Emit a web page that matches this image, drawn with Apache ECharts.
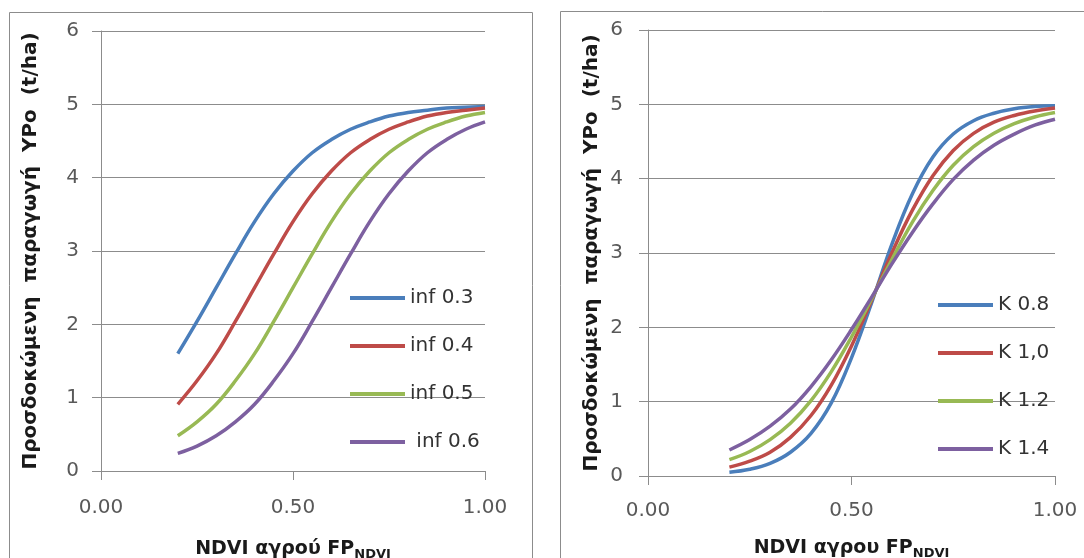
<!DOCTYPE html>
<html>
<head>
<meta charset="utf-8">
<script src="https://cdn.jsdelivr.net/npm/echarts@6/dist/echarts.min.js"></script>
<style>
  html, body { margin: 0; padding: 0; background: #fff; }
  #chart { width: 1084px; height: 558px; }
</style>
</head>
<body>
<div id="chart"></div>
<script>
// NDVI values (x) shared by all curves
var xValues = [0.20, 0.25, 0.30, 0.35, 0.40, 0.45, 0.50, 0.55, 0.60, 0.65, 0.70, 0.75, 0.80, 0.85, 0.90, 0.95, 1.00];

// left panel - inflection point
var infNames = ["inf 0.3", "inf 0.4", "inf 0.5", " inf 0.6"];
var inf03 = [1.60, 2.04, 2.50, 2.96, 3.40, 3.78, 4.09, 4.34, 4.52, 4.66, 4.76, 4.84, 4.89, 4.92, 4.95, 4.96, 4.97];
var inf04 = [0.91, 1.23, 1.60, 2.04, 2.50, 2.96, 3.40, 3.78, 4.09, 4.34, 4.52, 4.66, 4.76, 4.84, 4.89, 4.92, 4.95];
var inf05 = [0.48, 0.67, 0.91, 1.23, 1.60, 2.04, 2.50, 2.96, 3.40, 3.78, 4.09, 4.34, 4.52, 4.66, 4.76, 4.84, 4.89];
var inf06 = [0.24, 0.34, 0.48, 0.67, 0.91, 1.23, 1.60, 2.04, 2.50, 2.96, 3.40, 3.78, 4.09, 4.34, 4.52, 4.66, 4.76];

// right panel - K
var kNames = ["K 0.8", "K 1,0", "K 1.2", "K 1.4"];
var k08 = [0.05, 0.09, 0.17, 0.32, 0.57, 0.98, 1.59, 2.34, 3.13, 3.80, 4.29, 4.60, 4.78, 4.88, 4.94, 4.97, 4.98];
var k10 = [0.12, 0.20, 0.32, 0.52, 0.81, 1.22, 1.75, 2.37, 3.01, 3.58, 4.04, 4.38, 4.61, 4.76, 4.85, 4.91, 4.95];
var k12 = [0.22, 0.33, 0.49, 0.71, 1.01, 1.40, 1.87, 2.39, 2.92, 3.42, 3.84, 4.18, 4.43, 4.61, 4.74, 4.83, 4.89];
var k14 = [0.35, 0.49, 0.67, 0.90, 1.20, 1.56, 1.97, 2.41, 2.86, 3.28, 3.66, 3.99, 4.25, 4.45, 4.60, 4.72, 4.80];

var colors = ["#4a7ebb", "#be4b48", "#98b954", "#7d60a0"];
var font = "DejaVu Sans";

function pairs(ys) {
    return xValues.map(function (x, i) { return [x, ys[i]]; });
}

function lineSeries(name, ys, idx, c) {
    return {
        name: name, type: "line", xAxisIndex: idx, yAxisIndex: idx,
        data: pairs(ys), showSymbol: false, smooth: 0.4,
        lineStyle: { width: 3.5, color: c }, itemStyle: { color: c }
    };
}

function xAxisOf(idx, title, margin, gap) {
    return {
        type: "value", gridIndex: idx, min: 0, max: 1, interval: 0.5,
        axisLine: { show: true, lineStyle: { color: "#8c8c8c", width: 1 } },
        axisTick: { show: true, length: 9, lineStyle: { color: "#8c8c8c" } },
        splitLine: { show: false },
        axisLabel: { margin: margin, color: "#595959", fontFamily: font, fontSize: 20,
            formatter: function (v) { return v.toFixed(2); } },
        name: "{a|" + title + "}{b|NDVI}", nameLocation: "middle", nameGap: gap,
        nameTextStyle: {
            rich: {
                a: { fontFamily: font, fontWeight: "bold", fontSize: 19, color: "#1a1a1a", lineHeight: 24 },
                b: { fontFamily: font, fontWeight: "bold", fontSize: 13, color: "#1a1a1a", lineHeight: 24, verticalAlign: "bottom" }
            }
        }
    };
}

function yAxisOf(idx, margin, gap) {
    return {
        type: "value", gridIndex: idx, min: 0, max: 6, interval: 1,
        axisLine: { show: true, lineStyle: { color: "#8c8c8c", width: 1 } },
        axisTick: { show: true, length: 9, lineStyle: { color: "#8c8c8c" } },
        splitLine: { show: true, lineStyle: { color: "#8c8c8c", width: 1 } },
        axisLabel: { margin: margin, color: "#595959", fontFamily: font, fontSize: 20 },
        name: "Προσδοκώμενη  παραγωγή  YPo  (t/ha)", nameLocation: "middle", nameGap: gap,
        nameTextStyle: { fontFamily: font, fontWeight: "bold", fontSize: 20, color: "#1a1a1a" }
    };
}

function legendOf(names, left, top) {
    return {
        data: names, orient: "vertical", left: left, top: top,
        icon: "rect", itemWidth: 55, itemHeight: 4, itemGap: 28,
        textStyle: { fontFamily: font, fontSize: 20, lineHeight: 20, color: "#333" }
    };
}

var dom = document.getElementById("chart");
var myChart = echarts.init(dom);
var option = {
    animation: false,
    backgroundColor: "#fff",
    graphic: [
        { type: "rect", shape: { x: 9.5, y: 12.5, width: 523, height: 560 }, style: { fill: "none", stroke: "#8c8c8c", lineWidth: 1 } },
        { type: "rect", shape: { x: 560.5, y: 11.5, width: 540, height: 560 }, style: { fill: "none", stroke: "#8c8c8c", lineWidth: 1 } }
    ],
    grid: [
        { left: 101, top: 31, width: 384, height: 440, outerBoundsMode: "none", containLabel: false },
        { left: 648, top: 30, width: 407, height: 446, outerBoundsMode: "none", containLabel: false }
    ],
    xAxis: [xAxisOf(0, "NDVI αγρού FP", 27, 66), xAxisOf(1, "NDVI αγρου FP", 25, 60)],
    yAxis: [yAxisOf(0, 22, 60), yAxisOf(1, 25, 46)],
    legend: [legendOf(infNames, 345, 283), legendOf(kNames, 933, 290)],
    series: [
        lineSeries(infNames[0], inf03, 0, colors[0]),
        lineSeries(infNames[1], inf04, 0, colors[1]),
        lineSeries(infNames[2], inf05, 0, colors[2]),
        lineSeries(infNames[3], inf06, 0, colors[3]),
        lineSeries(kNames[0], k08, 1, colors[0]),
        lineSeries(kNames[1], k10, 1, colors[1]),
        lineSeries(kNames[2], k12, 1, colors[2]),
        lineSeries(kNames[3], k14, 1, colors[3])
    ]
};
option && "object" == typeof option && myChart.setOption(option, true);
</script>
</body>
</html>
